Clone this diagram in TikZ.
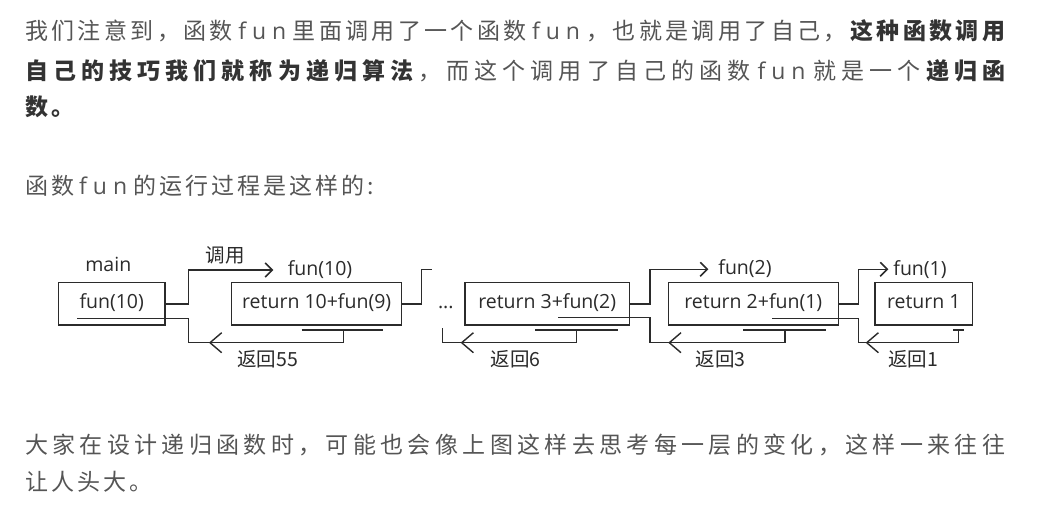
\documentclass[tikz,border=0pt]{standalone}
\usepackage{fontspec}
\setmainfont{Noto Sans CJK SC}
\newfontfamily\lat{Open Sans}
\usetikzlibrary{arrows.meta}
\definecolor{bodyc}{HTML}{555555}
\definecolor{boldc}{HTML}{333333}
\definecolor{linec}{HTML}{2B2B2B}
\makeatletter
\newcommand\spc[1]{\@tfor\spctmp:=#1\do{\spctmp\hskip 3pt plus 1pt\relax}}
\makeatother
\newcommand\fun{\hbox to 53pt{\lat\hskip2pt f\hfil u\hfil n\hskip3pt}}
\tikzset{
  body/.style={anchor=base west, inner sep=0pt, text=bodyc, font=\fontsize{23pt}{27pt}\selectfont},
  box/.style={draw=linec, line width=1.5pt, inner sep=0pt, minimum height=42.3pt,
    font=\lat\fontsize{19.5pt}{22pt}\selectfont, text=linec, text height=14pt, text depth=4pt},
  lbl/.style={anchor=base, inner sep=0pt, font=\lat\fontsize{19.5pt}{22pt}\selectfont, text=linec},
  clbl/.style={anchor=base, inner sep=0pt, font=\fontsize{19.5pt}{22pt}\selectfont, text=linec},
  wire/.style={draw=linec, line width=1.5pt},
  call/.style={wire, -{Straight Barb[length=7pt,width=14pt]}},
  back/.style={draw=linec, line width=1.4pt}
}
\begin{document}
\begin{tikzpicture}[x=1pt,y=-1pt]
\fill[white] (0,0) rectangle (1048,510);
\useasboundingbox (0,0) rectangle (1048,510);

% paragraph text
\node[body] (p1) at (25,39.8) {\hbox to 980pt{\spc{我们注意到，函数\fun 里面调用了一个函数\fun，也就是调用了自己，}{\bfseries\color{boldc}\spc{这种函数调用}\unskip}}};
\node[body] (p2) at (25,79.8) {\hbox to 980pt{{\bfseries\color{boldc}\spc{自己的技巧我们就称为递归算法}}\spc{，而这个调用了自己的函数\fun 就是一个}{\bfseries\color{boldc}\spc{递归函}\unskip}}};
\node[body] (p3) at (25,115.8) {{\bfseries\color{boldc}\spc{数。}\unskip}};
\node[body] (p4) at (25,194.8) {\spc{函数\fun 的运行过程是这样的:}\unskip};
\node[body] (p5) at (25,453.8) {\hbox to 980pt{\spc{大家在设计递归函数时，可能也会像上图这样去思考每一层的变化，这样一来往往}\unskip}};
\node[body] (p6) at (25,490.8) {\spc{让人头大。}\unskip};

% diagram nodes
\node[lbl] (main) at (108.3,272) {main};
\node[box, minimum width=106.7pt] (m) at (111.7,303.8) {fun(10)};
\node[clbl] (cl) at (225,262) {调用};
\node[lbl] (f10) at (320,276) {fun(10)};
\node[box, minimum width=170pt] (b10) at (316.7,303.8) {return 10+fun(9)};
\node[clbl] (r55) at (267.5,366) {返回55};
\node[lbl] (dots) at (445.8,308.5) {...};
\node[box, minimum width=164.3pt] (b3) at (547.2,303.8) {return 3+fun(2)};
\node[clbl] (r6) at (515.8,366) {返回6};
\node[lbl] (f2) at (745,275) {fun(2)};
\node[box, minimum width=170pt] (b2) at (753.3,303.8) {return 2+fun(1)};
\node[clbl] (r3) at (720.8,366) {返回3};
\node[lbl] (f1) at (920,276) {fun(1)};
\node[box, minimum width=97.7pt] (b1) at (923.8,303.8) {return 1};
\node[clbl] (r1) at (913.3,366) {返回1};

% call connectors
\coordinate (k1) at (188.3,270); \coordinate (k1e) at (273.3,270);
\draw[call] (m.east) -| (k1) -- (k1e);
\coordinate (k2) at (421.7,269.3); \coordinate (k2e) at (431.7,269.3);
\draw[wire] (b10.east) -| (k2) -- (k2e);
\coordinate (k3) at (650,269.3); \coordinate (k3e) at (708.3,269.3);
\draw[call] (b3.east) -| (k3) -- (k3e);
\coordinate (k4) at (858.3,269.3); \coordinate (k4e) at (888.3,269.3);
\draw[call] (b2.east) -| (k4) -- (k4e);

% return connectors
\coordinate (u1s) at (301.7,330); \coordinate (u1e) at (383.3,330);
\coordinate (v1) at (343.3,330); \coordinate (w1) at (188.3,342.7);
\coordinate (w1t) at (188.3,318.3); \coordinate (w1e) at (76.7,318.3);
\coordinate (a1) at (210,342.7);
\draw[wire] (u1s) -- (u1e);
\draw[wire] (v1) |- (w1) -- (w1t) -- (w1e);
\draw[back] (a1) ++(11.7,-10) -- (a1) -- ++(11.7,10);

\coordinate (u2s) at (535,330); \coordinate (u2e) at (618.3,330);
\coordinate (v2) at (576.7,330); \coordinate (w2) at (442.7,342.7);
\coordinate (w2t) at (442.7,328.3);
\coordinate (a2) at (461.7,342.7);
\draw[wire] (u2s) -- (u2e);
\draw[wire] (v2) |- (w2) -- (w2t);
\draw[back] (a2) ++(11.7,-10) -- (a2) -- ++(11.7,10);

\coordinate (u3s) at (743.3,330); \coordinate (u3e) at (826,330);
\coordinate (v3) at (785,330); \coordinate (w3) at (650,342.7);
\coordinate (w3t) at (650,317.3); \coordinate (w3e) at (558.3,317.3);
\coordinate (a3) at (669.3,342.7);
\draw[wire] (u3s) -- (u3e);
\draw[wire] (v3) |- (w3) -- (w3t) -- (w3e);
\draw[back] (a3) ++(11.7,-10) -- (a3) -- ++(11.7,10);

\coordinate (u4s) at (953,330); \coordinate (u4e) at (963.6,330);
\coordinate (v4) at (958.3,330); \coordinate (w4) at (858.3,342.7);
\coordinate (w4t) at (858.3,318.3); \coordinate (w4e) at (771.7,318.3);
\coordinate (a4) at (866.7,342.7);
\draw[wire] (u4s) -- (u4e);
\draw[wire] (v4) |- (w4) -- (w4t) -- (w4e);
\draw[back] (a4) ++(11.7,-10) -- (a4) -- ++(11.7,10);
\end{tikzpicture}
\end{document}
